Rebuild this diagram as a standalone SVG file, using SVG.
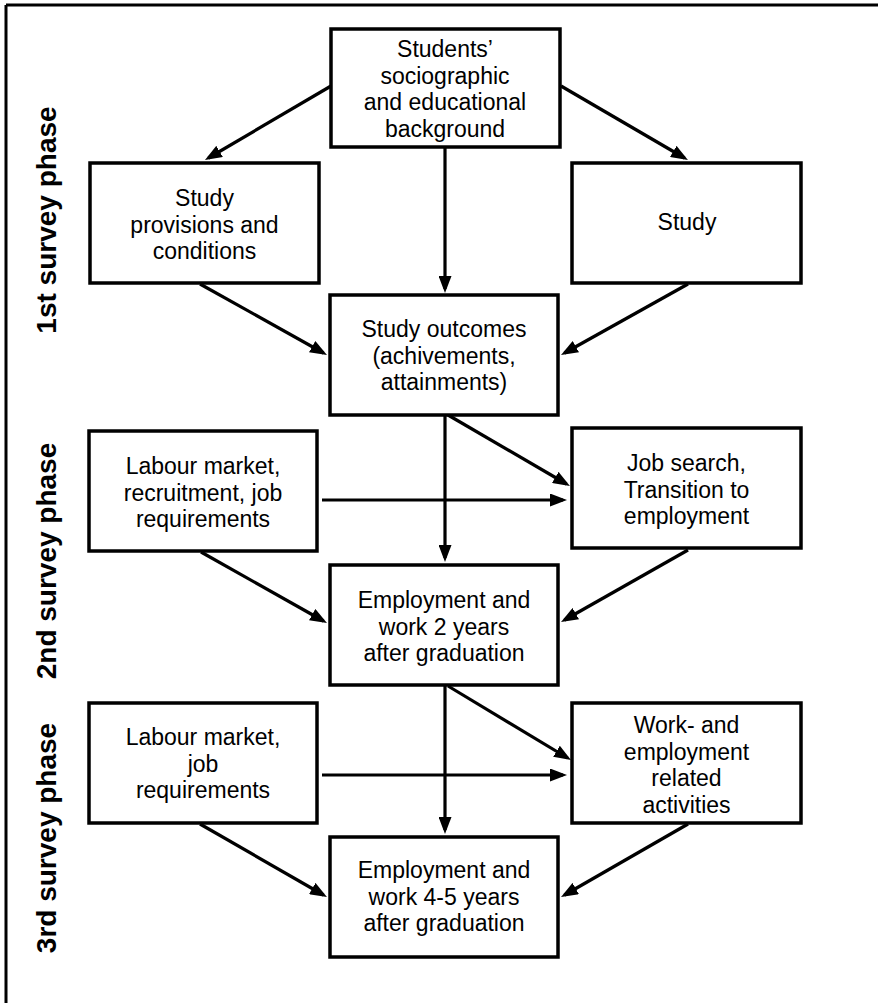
<svg xmlns="http://www.w3.org/2000/svg" width="878" height="1005" viewBox="0 0 878 1005">
<style>
.box{fill:#fff;stroke:#000;stroke-width:3.5}
.t{font-family:"Liberation Sans",Arial,sans-serif;font-size:23px;fill:#000;text-anchor:middle}
.ph{font-family:"Liberation Sans",Arial,sans-serif;font-size:28px;font-weight:bold;fill:#000;text-anchor:middle}
.c{stroke:#000;stroke-width:3.2;fill:none;marker-end:url(#ah)}
</style>
<defs>
<marker id="ah" viewBox="0 0 17 13" refX="13" refY="6.5" markerWidth="17" markerHeight="13" markerUnits="userSpaceOnUse" orient="auto">
<path d="M0,0 L17,6.5 L0,13 z" fill="#000"/>
</marker>
</defs>
<rect width="878" height="1005" fill="#fff"/>
<g id="frame">
<line x1="6" y1="5" x2="878" y2="5" stroke="#000" stroke-width="3"/>
<line x1="6" y1="5" x2="6" y2="1003" stroke="#000" stroke-width="3"/>
</g>
<g id="phases">
<text class="ph" transform="translate(56,220) rotate(-90)">1st survey phase</text>
<text class="ph" transform="translate(56,561) rotate(-90)">2nd survey phase</text>
<text class="ph" transform="translate(56,838) rotate(-90)">3rd survey phase</text>
</g>
<g id="connectors">
<line class="c" x1="331" y1="86" x2="208.4" y2="158"/>
<line class="c" x1="561" y1="86" x2="684.5" y2="158"/>
<line class="c" x1="445" y1="148" x2="445" y2="289"/>
<line class="c" x1="200" y1="284" x2="323.5" y2="353"/>
<line class="c" x1="688" y1="284" x2="564.5" y2="353"/>
<line class="c" x1="445" y1="415" x2="445" y2="558"/>
<line class="c" x1="448" y1="415" x2="566.5" y2="484"/>
<line class="c" x1="322" y1="500" x2="563" y2="500"/>
<line class="c" x1="201" y1="552" x2="323.5" y2="621"/>
<line class="c" x1="688" y1="550" x2="564.5" y2="620"/>
<line class="c" x1="445" y1="686" x2="445" y2="830"/>
<line class="c" x1="448" y1="686" x2="567.6" y2="758"/>
<line class="c" x1="322" y1="775" x2="563" y2="775"/>
<line class="c" x1="200" y1="824" x2="323.5" y2="895"/>
<line class="c" x1="688" y1="824" x2="564.5" y2="895"/>
</g>
<g id="n-background">
<rect class="box" x="331" y="29" width="229" height="118"/>
<text class="t" x="445" y="57">Students’</text>
<text class="t" x="445" y="83.5">sociographic</text>
<text class="t" x="445" y="110">and educational</text>
<text class="t" x="445" y="136.5">background</text>
</g>
<g id="n-provisions">
<rect class="box" x="90" y="163" width="229" height="120"/>
<text class="t" x="204.5" y="206">Study</text>
<text class="t" x="204.5" y="232.5">provisions and</text>
<text class="t" x="204.5" y="259">conditions</text>
</g>
<g id="n-study">
<rect class="box" x="572" y="163" width="229" height="120"/>
<text class="t" x="687" y="230">Study</text>
</g>
<g id="n-outcomes">
<rect class="box" x="330" y="295" width="228" height="120"/>
<text class="t" x="444" y="337">Study outcomes</text>
<text class="t" x="444" y="363.5">(achivements,</text>
<text class="t" x="444" y="390">attainments)</text>
</g>
<g id="n-labour2">
<rect class="box" x="89" y="431" width="228" height="120"/>
<text class="t" x="203" y="474">Labour market,</text>
<text class="t" x="203" y="500.5">recruitment, job</text>
<text class="t" x="203" y="527">requirements</text>
</g>
<g id="n-jobsearch">
<rect class="box" x="572" y="428" width="229" height="120"/>
<text class="t" x="686.5" y="471">Job search,</text>
<text class="t" x="686.5" y="497.5">Transition to</text>
<text class="t" x="686.5" y="524">employment</text>
</g>
<g id="n-emp2">
<rect class="box" x="330" y="565" width="228" height="120"/>
<text class="t" x="444" y="608">Employment and</text>
<text class="t" x="444" y="634.5">work 2 years</text>
<text class="t" x="444" y="661">after graduation</text>
</g>
<g id="n-labour3">
<rect class="box" x="89" y="703" width="228" height="120"/>
<text class="t" x="203" y="745">Labour market,</text>
<text class="t" x="203" y="771.5">job</text>
<text class="t" x="203" y="798">requirements</text>
</g>
<g id="n-work">
<rect class="box" x="572" y="703" width="229" height="120"/>
<text class="t" x="686.5" y="733">Work- and</text>
<text class="t" x="686.5" y="759.5">employment</text>
<text class="t" x="686.5" y="786">related</text>
<text class="t" x="686.5" y="812.5">activities</text>
</g>
<g id="n-emp45">
<rect class="box" x="330" y="837" width="228" height="120"/>
<text class="t" x="444" y="878">Employment and</text>
<text class="t" x="444" y="904.5">work 4-5 years</text>
<text class="t" x="444" y="931">after graduation</text>
</g>
</svg>
